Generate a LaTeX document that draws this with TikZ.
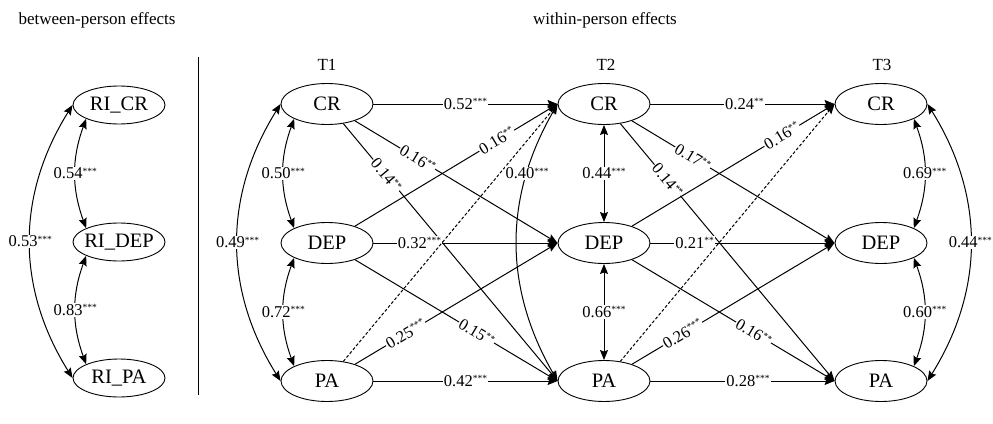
\documentclass[tikz,border=0pt]{standalone}
\usepackage{fontspec}
\setmainfont{Liberation Serif}
\usetikzlibrary{shapes.geometric,arrows.meta}
\newcommand{\lab}[2]{#1\raisebox{4.8pt}{\fontsize{9.5}{9.5}\selectfont #2}}
\begin{document}
\begin{tikzpicture}[x=1pt,y=-1pt,
  vnode/.style={ellipse,draw,line width=0.9pt,minimum width=92pt,minimum height=41pt,inner sep=0pt,font=\fontsize{20.5}{24}\selectfont},
  tip/.tip={Stealth[length=10pt,width=8pt,inset=1.5pt]},
  eff/.style={line width=1pt,-tip},
  cov/.style={line width=1pt,tip-tip},
  lbl/.style={fill=white,inner sep=1pt,font=\fontsize{16.5}{18}\selectfont},
  ttl/.style={font=\fontsize{17}{19}\selectfont}]
\useasboundingbox (0,0) rectangle (993,423);
% titles
\node[ttl] (tb) at (97,20) {between-person effects};
\node[ttl] (tw) at (605,20) {within-person effects};
\node[ttl] (t1) at (327,65) {T1};
\node[ttl] (t2) at (606,65) {T2};
\node[ttl] (t3) at (882,65) {T3};
\coordinate (s1) at (198,57);
\coordinate (s2) at (198,395);
\draw[line width=0.9pt] (s1) -- (s2);
% nodes
\node[vnode,minimum height=38pt] (ricr) at (119,105) {\makebox[0pt]{RI\_CR}};
\node[vnode,minimum height=38pt] (ridep) at (119,242) {\makebox[0pt]{RI\_DEP}};
\node[vnode,minimum height=38pt] (ripa) at (119,378) {\makebox[0pt]{RI\_PA}};
\node[vnode] (cr1) at (327,104) {\makebox[0pt]{CR}};
\node[vnode] (dep1) at (327,243) {\makebox[0pt]{DEP}};
\node[vnode] (pa1) at (327,381) {\makebox[0pt]{PA}};
\node[vnode] (cr2) at (604,104) {\makebox[0pt]{CR}};
\node[vnode] (dep2) at (604,243) {\makebox[0pt]{DEP}};
\node[vnode] (pa2) at (604,381) {\makebox[0pt]{PA}};
\node[vnode] (cr3) at (881,104) {\makebox[0pt]{CR}};
\node[vnode] (dep3) at (881,243) {\makebox[0pt]{DEP}};
\node[vnode] (pa3) at (881,381) {\makebox[0pt]{PA}};
% between-person
\draw[cov] (ricr.south west) to[bend right=20] node[lbl]{\lab{0.54}{***}} (ridep.north west);
\draw[cov] (ridep.south west) to[bend right=20] node[lbl]{\lab{0.83}{***}} (ripa.north west);
\draw[cov] (ricr.west) to[bend right=32] node[lbl]{\lab{0.53}{***}} (ripa.west);
% T1 covariances
\draw[cov] (cr1.south west) to[bend right=20] node[lbl]{\lab{0.50}{***}} (dep1.north west);
\draw[cov] (dep1.south west) to[bend right=20] node[lbl]{\lab{0.72}{***}} (pa1.north west);
\draw[cov] (cr1.west) to[bend right=32] node[lbl]{\lab{0.49}{***}} (pa1.west);
% T1 -> T2
\draw[eff] (cr1) -- node[lbl]{\lab{0.52}{***}} (cr2);
\draw[eff] (cr1) -- node[lbl,sloped,pos=0.31]{\lab{0.16}{**}} (dep2.west);
\draw[eff] (cr1) -- node[lbl,sloped,pos=0.2]{\lab{0.14}{**}} (pa2.west);
\draw[eff] (dep1) -- node[lbl,sloped,pos=0.70]{\lab{0.16}{**}} (cr2.west);
\draw[eff] (dep1) -- node[lbl,pos=0.25]{\lab{0.32}{***}} (dep2);
\draw[eff] (dep1) -- node[lbl,sloped,pos=0.6]{\lab{0.15}{**}} (pa2.west);
\draw[eff,dashed,dash pattern=on 3pt off 2pt] (pa1) -- (cr2.west);
\draw[eff] (pa1) -- node[lbl,sloped,pos=0.25]{\lab{0.25}{***}} (dep2.west);
\draw[eff] (pa1) -- node[lbl]{\lab{0.42}{***}} (pa2);
% T2 covariances
\draw[cov] (cr2.west) to[bend right=30] node[lbl,pos=0.25]{\lab{0.40}{***}} (pa2.west);
\draw[cov] (cr2) -- node[lbl]{\lab{0.44}{***}} (dep2);
\draw[cov] (dep2) -- node[lbl]{\lab{0.66}{***}} (pa2);
% T2 -> T3
\draw[eff] (cr2) -- node[lbl,pos=0.51]{\lab{0.24}{**}} (cr3);
\draw[eff] (cr2) -- node[lbl,sloped,pos=0.30]{\lab{0.17}{**}} (dep3.west);
\draw[eff] (cr2) -- node[lbl,sloped,pos=0.22]{\lab{0.14}{**}} (pa3.west);
\draw[eff] (dep2) -- node[lbl,sloped,pos=0.74]{\lab{0.16}{**}} (cr3.west);
\draw[eff] (dep2) -- node[lbl,pos=0.24]{\lab{0.21}{**}} (dep3);
\draw[eff] (dep2) -- node[lbl,sloped,pos=0.6]{\lab{0.16}{**}} (pa3.west);
\draw[eff,dashed,dash pattern=on 3pt off 2pt] (pa2) -- (cr3.west);
\draw[eff] (pa2) -- node[lbl,sloped,pos=0.25]{\lab{0.26}{***}} (dep3.west);
\draw[eff] (pa2) -- node[lbl,pos=0.53]{\lab{0.28}{***}} (pa3);
% T3 covariances
\draw[cov] (cr3.south east) to[bend left=20] node[lbl]{\lab{0.69}{***}} (dep3.north east);
\draw[cov] (dep3.south east) to[bend left=20] node[lbl]{\lab{0.60}{***}} (pa3.north east);
\draw[cov] (cr3.east) to[bend left=32] node[lbl]{\lab{0.44}{***}} (pa3.east);
\end{tikzpicture}
\end{document}
